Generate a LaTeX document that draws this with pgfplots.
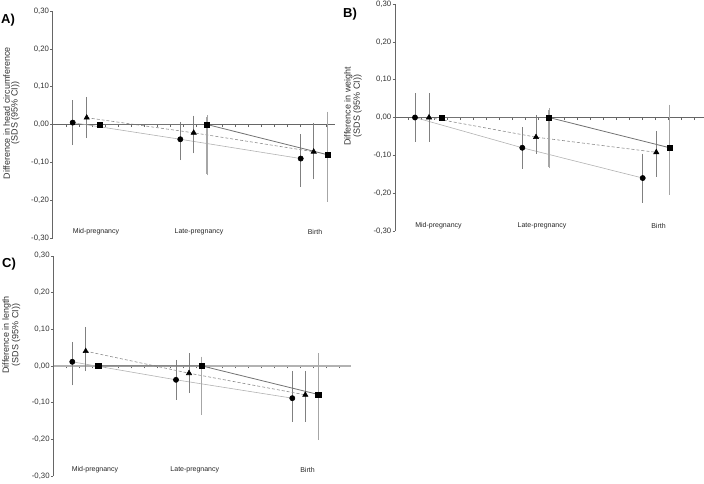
\documentclass[border=0pt]{standalone}
\usepackage{pgfplots}
\pgfplotsset{compat=1.18}
\usepackage{fontspec}
\setmainfont{Liberation Sans}

\tikzset{cat/.style={font=\fontsize{7}{8}\selectfont, text=black!85}}
\pgfplotsset{
  panel/.style={
    scale only axis, anchor=south west,
    axis y line=left, axis x line=middle,
    axis line style={-, black!60},
    ymin=-0.30, ymax=0.30, xmin=0,
    ytick={-0.3,-0.2,...,0.31},
    yticklabel style={font=\fontsize{7.8}{9}\selectfont, text=black!80, inner sep=1pt,
      /pgf/number format/.cd, fixed, fixed zerofill, precision=2, use comma, assume math mode=true},
    ytick align=outside, xtick align=outside,
    xtick={0,13,...,320}, xticklabels={},
    tick style={black!60, line width=0.4pt},
    major tick length=2.5pt,
    ylabel style={align=center, font=\fontsize{9}{7.8}\selectfont, text=black!80, inner sep=0pt},
    ylabel shift=10.5pt,
    clip=false,
  },
  circ/.style={gray!60, line width=0.6pt, mark=*, mark size=2.6pt,
    mark options={solid, fill=black, draw=black},
    error bars/.cd, y dir=both, y explicit, error mark=-,
    error bar style={gray, line width=0.6pt},
    error mark options={gray, mark size=1.6pt, line width=0.6pt}},
  tri/.style={gray!90, line width=0.6pt, dashed, dash pattern=on 3pt off 2pt,
    mark=triangle*, mark size=3pt,
    mark options={solid, fill=black, draw=black},
    error bars/.cd, y dir=both, y explicit, error mark=-,
    error bar style={solid, gray, line width=0.6pt},
    error mark options={solid, gray, mark size=1.6pt, line width=0.6pt}},
  sq/.style={gray!90!black, line width=0.8pt, mark=square*, mark size=2.6pt,
    mark options={solid, fill=black, draw=black},
    error bars/.cd, y dir=both, y explicit, error mark=-,
    error bar style={gray!70, line width=1.1pt},
    error mark options={gray!70, mark size=1.6pt, line width=0.6pt}},
}

\begin{document}
\begin{tikzpicture}
\useasboundingbox (0pt,0pt) rectangle (704pt,-483pt);

% A) head circumference
\begin{axis}[panel, at={(52.7pt,-238pt)}, width=282.3pt, height=227pt, xmax=282.3,
  ylabel={Difference in head circumference\\(SDS (95\% CI))},
  ylabel style={at={(ticklabel cs:0.55)}}]
\addplot[circ] coordinates {
  (20,0.005) +=(0,0.055) -=(0,0.055)
  (127.6,-0.039) +=(0,0.042) -=(0,0.051)
  (248,-0.090) +=(0,0.060) -=(0,0.070)};
\addplot[tri] coordinates {
  (34,0.018) +=(0,0.051) -=(0,0.050)
  (141,-0.022) +=(0,0.041) -=(0,0.050)
  (261,-0.072) +=(0,0.072) -=(0,0.069)};
\addplot[sq] coordinates {
  (47.3,0) +=(0,0) -=(0,0)
  (154.3,0) +=(0,0.020) -=(0,0.130)
  (275,-0.080) +=(0,0.110) -=(0,0.120)};
\node[cat] at (axis cs:43.3,-0.284) {Mid-pregnancy};
\node[cat] at (axis cs:146.3,-0.284) {Late-pregnancy};
\node[cat] at (axis cs:262.3,-0.284) {Birth};
\end{axis}

% B) weight
\begin{axis}[panel, at={(395pt,-231pt)}, width=309pt, height=227pt, xmax=309,
  ylabel={Difference in weight\\(SDS (95\% CI))},
  ylabel style={at={(ticklabel cs:0.55)}}]
\addplot[circ] coordinates {
  (20,0) +=(0,0.060) -=(0,0.060)
  (127.3,-0.080) +=(0,0.050) -=(0,0.051)
  (247.7,-0.160) +=(0,0.060) -=(0,0.061)};
\addplot[tri] coordinates {
  (34,0) +=(0,0.060) -=(0,0.060)
  (141,-0.052) +=(0,0.054) -=(0,0.039)
  (261.3,-0.092) +=(0,0.052) -=(0,0.060)};
\addplot[sq] coordinates {
  (46.7,0) +=(0,0) -=(0,0)
  (154,0) +=(0,0.020) -=(0,0.130)
  (274.7,-0.080) +=(0,0.110) -=(0,0.120)};
\node[cat] at (axis cs:43.5,-0.286) {Mid-pregnancy};
\node[cat] at (axis cs:147,-0.286) {Late-pregnancy};
\node[cat] at (axis cs:263.5,-0.286) {Birth};
\end{axis}

% C) length
\begin{axis}[panel, at={(53.3pt,-476pt)}, width=297.4pt, height=220.3pt, xmax=297.4,
  x axis line style={gray!60, line width=1.6pt},
  ylabel={Difference in length\\(SDS (95\% CI))},
  ylabel style={at={(ticklabel cs:0.64)}}]
\addplot[circ] coordinates {
  (19,0.011) +=(0,0.050) -=(0,0.060)
  (122.7,-0.038) +=(0,0.050) -=(0,0.050)
  (239,-0.088) +=(0,0.070) -=(0,0.060)};
\addplot[tri] coordinates {
  (32.4,0.040) +=(0,0.062) -=(0,0.050)
  (135.7,-0.020) +=(0,0.050) -=(0,0.050)
  (252,-0.079) +=(0,0.061) -=(0,0.069)};
\addplot[sq] coordinates {
  (45,0) +=(0,0) -=(0,0)
  (148.4,0) +=(0,0.021) -=(0,0.130)
  (265,-0.078) +=(0,0.109) -=(0,0.120)};
\node[cat] at (axis cs:41.7,-0.284) {Mid-pregnancy};
\node[cat] at (axis cs:141.5,-0.284) {Late-pregnancy};
\node[cat] at (axis cs:254.2,-0.284) {Birth};
\end{axis}

\node[font=\bfseries\fontsize{13}{14}\selectfont, anchor=west, inner sep=0pt] at (1pt,-20pt) {A)};
\node[font=\bfseries\fontsize{13}{14}\selectfont, anchor=west, inner sep=0pt] at (343pt,-14pt) {B)};
\node[font=\bfseries\fontsize{13}{14}\selectfont, anchor=west, inner sep=0pt] at (2pt,-264pt) {C)};
\end{tikzpicture}
\end{document}
